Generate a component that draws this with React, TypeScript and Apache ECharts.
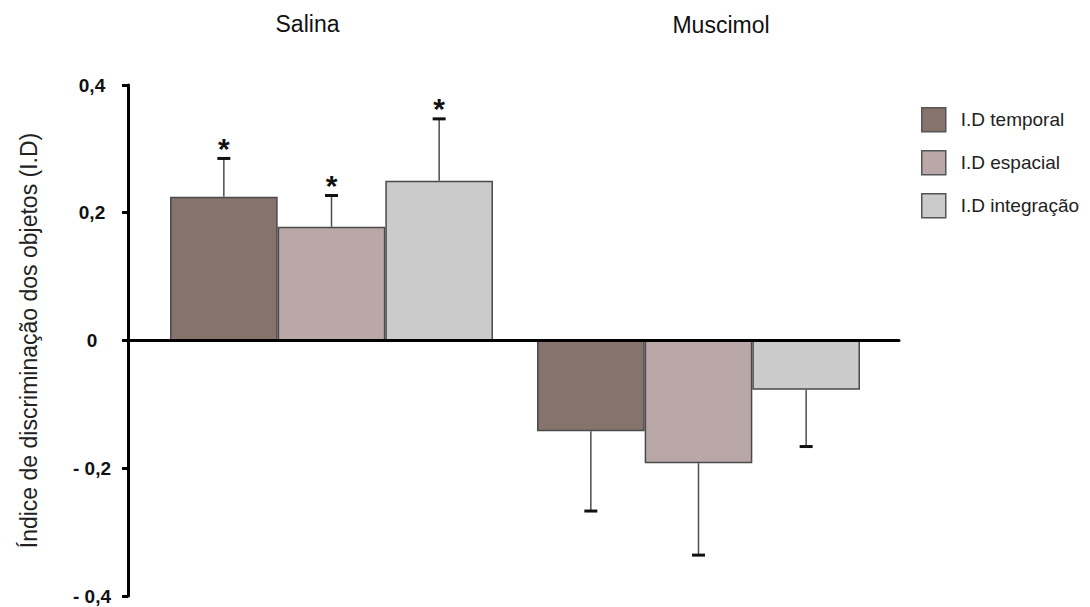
import React, { useEffect, useRef } from 'react';
import * as echarts from 'echarts';

// Groups (treatments) and the three discrimination indices
const groups = ['Salina', 'Muscimol'];
const seriesNames = ['I.D temporal', 'I.D espacial', 'I.D integração'];

// Mean index per group, and the standard error drawn away from zero
const temporalMean = [0.225, -0.142];
const temporalErr = [0.06, 0.125];
const espacialMean = [0.178, -0.192];
const espacialErr = [0.049, 0.144];
const integracaoMean = [0.25, -0.077];
const integracaoErr = [0.097, 0.089];

// Significance marker per group
const significance = ['*', ''];

const yTickValues = [-0.4, -0.2, 0, 0.2, 0.4];
const yTickLabels = ['- 0,4', '- 0,2', '0', '0,2', '0,4'];
const yAxisTitle = 'Índice de discriminação dos objetos (I.D)';

const colors = ['#85736c', '#b9a8a7', '#cbcbcb'];
const FONT = 'Arial, "Liberation Sans", Helvetica, sans-serif';
const CATEGORY_GAP = 0.12;

const means = [temporalMean, espacialMean, integracaoMean];
const errors = [temporalErr, espacialErr, integracaoErr];

function errorBarRenderer(k: number, n: number) {
  return (params: any, api: any) => {
    const cat = api.value(0);
    const mean = api.value(1);
    const err = api.value(2);
    const band = api.size([1, 0])[0];
    const barW = (band * (1 - CATEGORY_GAP)) / n;
    const cx = api.coord([cat, 0])[0] + (k - (n - 1) / 2) * barW;
    const end = mean + Math.sign(mean) * err;
    const yMean = api.coord([cat, mean])[1];
    const yEnd = api.coord([cat, end])[1];
    const children: any[] = [
      {
        type: 'line',
        shape: { x1: cx, y1: yMean, x2: cx, y2: yEnd },
        style: { stroke: '#4d4d4d', lineWidth: 1.5 },
      },
      {
        type: 'line',
        shape: { x1: cx - 6.5, y1: yEnd, x2: cx + 6.5, y2: yEnd },
        style: { stroke: '#111', lineWidth: 3 },
      },
    ];
    const mark = significance[cat];
    if (mark) {
      children.push({
        type: 'text',
        x: cx,
        y: yEnd - 10,
        style: {
          text: mark,
          align: 'center',
          verticalAlign: 'middle',
          fontSize: 30,
          fontWeight: 'bold',
          fontFamily: FONT,
          fill: '#111',
        },
      });
    }
    return { type: 'group', children };
  };
}

export default function App() {
  const ref = useRef<HTMLDivElement>(null);

  useEffect(() => {
    if (!ref.current) return;
    const chart = echarts.init(ref.current, undefined, { renderer: 'svg' });
    const n = seriesNames.length;

    const barSeries = seriesNames.map((name, k) => ({
      type: 'bar',
      name,
      xAxisIndex: 0,
      yAxisIndex: 0,
      data: means[k],
      barGap: '0%',
      barCategoryGap: `${CATEGORY_GAP * 100}%`,
      itemStyle: { color: colors[k], borderColor: '#4a4a4a', borderWidth: 1.5 },
      z: 2,
    }));

    const errorSeries = seriesNames.map((name, k) => ({
      type: 'custom',
      name: `${name} (erro)`,
      xAxisIndex: 0,
      yAxisIndex: 0,
      data: means[k].map((m, i) => [i, m, errors[k][i]]),
      renderItem: errorBarRenderer(k, n),
      z: 3,
    }));

    chart.setOption({
      animation: false,
      backgroundColor: '#fff',
      textStyle: { fontFamily: FONT },
      grid: [
        { left: 148, right: 208, top: 85, bottom: 11 },
        { left: 128, right: 191, top: 85, bottom: 11 },
      ],
      xAxis: [
        { gridIndex: 0, type: 'category', data: groups, show: false },
        {
          gridIndex: 1,
          type: 'value',
          min: 0,
          max: 1,
          axisLine: { show: true, onZero: true, lineStyle: { color: '#000', width: 3 } },
          axisTick: { show: false },
          axisLabel: { show: false },
          splitLine: { show: false },
          z: 10,
        },
      ],
      yAxis: [
        { gridIndex: 0, type: 'value', min: -0.4, max: 0.4, show: false },
        {
          gridIndex: 1,
          type: 'value',
          min: -0.4,
          max: 0.4,
          interval: 0.2,
          axisLine: { show: true, onZero: false, lineStyle: { color: '#000', width: 3 } },
          axisTick: { show: true, length: 6, lineStyle: { color: '#000', width: 3 } },
          axisLabel: {
            margin: 36,
            align: 'center',
            fontSize: 19,
            fontWeight: 'bold',
            color: '#111',
            fontFamily: FONT,
            formatter: (v: number) => {
              const i = yTickValues.findIndex((t) => Math.abs(t - v) < 1e-9);
              return i >= 0 ? yTickLabels[i] : '';
            },
          },
          splitLine: { show: false },
          z: 10,
        },
      ],
      legend: {
        data: seriesNames,
        orient: 'vertical',
        left: 921,
        top: 107,
        padding: 0,
        itemWidth: 24,
        itemHeight: 24,
        itemGap: 17.5,
        icon: 'rect',
        itemStyle: { borderColor: '#555', borderWidth: 1.5 },
        textStyle: { fontSize: 19, color: '#222', fontFamily: FONT, padding: [0, 0, 0, 10] },
      },
      graphic: [
        {
          type: 'text',
          x: 307.5,
          y: 24,
          style: {
            text: groups[0],
            align: 'center',
            verticalAlign: 'middle',
            fontSize: 23,
            fontFamily: FONT,
            fill: '#111',
          },
        },
        {
          type: 'text',
          x: 721,
          y: 25,
          style: {
            text: groups[1],
            align: 'center',
            verticalAlign: 'middle',
            fontSize: 23,
            fontFamily: FONT,
            fill: '#111',
          },
        },
        {
          type: 'text',
          x: 29,
          y: 340.5,
          rotation: Math.PI / 2,
          style: {
            text: yAxisTitle,
            align: 'center',
            verticalAlign: 'middle',
            fontSize: 23,
            fontFamily: FONT,
            fill: '#222',
          },
        },
      ],
      series: [...barSeries, ...errorSeries],
    });

    return () => chart.dispose();
  }, []);

  return (
    <div
      ref={ref}
      style={{ position: 'fixed', left: 0, top: 0, width: 1090, height: 607 }}
    />
  );
}
